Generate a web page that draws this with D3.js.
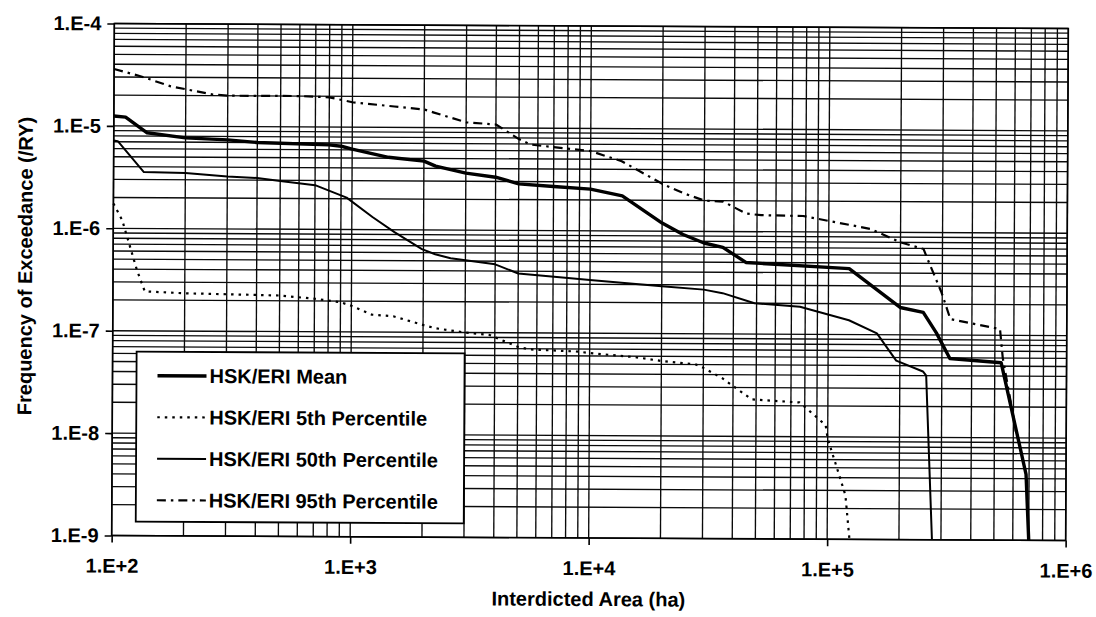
<!DOCTYPE html>
<html>
<head>
<meta charset="utf-8">
<script src="https://cdn.jsdelivr.net/npm/d3@7"></script>
<style>
  body { margin: 0; background: #fff; }
  text { font-family: "Liberation Sans", Arial, sans-serif; font-weight: bold; fill: #000; }
</style>
</head>
<body>
<svg id="chart" width="1096" height="617"></svg>
<script>
// Exceedance frequency curves (interdicted area in ha, frequency per reactor-year)
const meanX = [100, 112, 138, 200, 300, 400, 800, 900, 1000, 1420, 2000, 2240, 3000, 4000, 5000, 7000, 10000, 13600, 20000, 24500, 30000, 36000, 45000, 52000, 122000, 200000, 250000, 284000, 324000, 532000, 680000, 700000];
const meanY = [1.25e-5, 1.22e-5, 8.6e-6, 7.7e-6, 7.4e-6, 7.0e-6, 6.7e-6, 6.5e-6, 6.1e-6, 5.1e-6, 4.7e-6, 4.2e-6, 3.6e-6, 3.3e-6, 2.85e-6, 2.7e-6, 2.55e-6, 2.2e-6, 1.2e-6, 9.3e-7, 7.7e-7, 7.0e-7, 5.0e-7, 4.9e-7, 4.4e-7, 1.85e-7, 1.66e-7, 1.05e-7, 5.9e-8, 5.4e-8, 4.4e-9, 1e-9];

const p5X = [100, 109, 116, 126, 136, 200, 300, 500, 700, 900, 1000, 1220, 1500, 2000, 2240, 3000, 3800, 5000, 5600, 9000, 10000, 15700, 20000, 28000, 30000, 36000, 40000, 48000, 76000, 80000, 98000, 100000, 108000, 119000, 124000];
const p5Y = [1.75e-6, 1.2e-6, 7.4e-7, 3.9e-7, 2.43e-7, 2.34e-7, 2.3e-7, 2.25e-7, 2.1e-7, 1.95e-7, 1.8e-7, 1.48e-7, 1.43e-7, 1.18e-7, 1.1e-7, 1.0e-7, 9.5e-8, 7.3e-8, 6.9e-8, 6.6e-8, 6.4e-8, 5.85e-8, 5.4e-8, 5.0e-8, 4.65e-8, 3.7e-8, 3.1e-8, 2.3e-8, 2.16e-8, 1.96e-8, 1.3e-8, 9.6e-9, 5.5e-9, 2.7e-9, 1e-9];

const p50X = [100, 104, 134, 200, 300, 400, 500, 700, 950, 1220, 1510, 1970, 2240, 2600, 4000, 5000, 10000, 20000, 30000, 36000, 49000, 76000, 122000, 160000, 193000, 250000, 258000, 275000];
const p50Y = [7.2e-6, 7.1e-6, 3.55e-6, 3.5e-6, 3.25e-6, 3.15e-6, 2.95e-6, 2.7e-6, 2.05e-6, 1.33e-6, 9.5e-7, 6.5e-7, 5.8e-7, 5.3e-7, 4.65e-7, 3.8e-7, 3.3e-7, 2.9e-7, 2.7e-7, 2.5e-7, 2.0e-7, 1.86e-7, 1.38e-7, 1.03e-7, 5.6e-8, 4.4e-8, 4.0e-8, 1e-9];

const p95X = [100, 130, 173, 260, 300, 600, 800, 1000, 1500, 2000, 2200, 3000, 4000, 5000, 5600, 10000, 13500, 20000, 24500, 30000, 36000, 45000, 52000, 78000, 149000, 200000, 250000, 260000, 298000, 325000, 525000, 540000, 596000, 615000];
const p95Y = [3.6e-5, 3.05e-5, 2.45e-5, 2.05e-5, 2.0e-5, 2.0e-5, 1.95e-5, 1.75e-5, 1.6e-5, 1.5e-5, 1.4e-5, 1.13e-5, 1.08e-5, 7.8e-6, 6.9e-6, 6.0e-6, 4.8e-6, 2.9e-6, 2.36e-6, 2.0e-6, 1.96e-6, 1.5e-6, 1.45e-6, 1.43e-6, 1.08e-6, 8.0e-7, 6.9e-7, 5.5e-7, 2.6e-7, 1.43e-7, 1.15e-7, 6.0e-8, 1.75e-8, 1.15e-8];

const xTickValues = [1e2, 1e3, 1e4, 1e5, 1e6];
const xTickLabels = ["1.E+2", "1.E+3", "1.E+4", "1.E+5", "1.E+6"];
const yTickValues = [1e-4, 1e-5, 1e-6, 1e-7, 1e-8, 1e-9];
const yTickLabels = ["1.E-4", "1.E-5", "1.E-6", "1.E-7", "1.E-8", "1.E-9"];

const seriesNames = ["HSK/ERI Mean", "HSK/ERI 5th Percentile", "HSK/ERI 50th Percentile", "HSK/ERI 95th Percentile"];

const xTitle = "Interdicted Area (ha)";
const yTitle = "Frequency of Exceedance (/RY)";

// ---- layout ----
const plotL = 113, plotR = 1067, plotT = 26, plotB = 538;
const svg = d3.select("#chart");
const root = svg.append("g").attr("transform", "rotate(0.3,590,282)");

const x = d3.scaleLog().domain([1e2, 1e6]).range([plotL, plotR]);
const y = d3.scaleLog().domain([1e-9, 1e-4]).range([plotB, plotT]);

// log grid: every 1..9 x 10^n
const xGrid = [], yGrid = [];
for (let e = 2; e < 6; e++) for (let k = 1; k < 10; k++) xGrid.push(k * Math.pow(10, e));
xGrid.push(1e6);
for (let e = -9; e < -4; e++) for (let k = 1; k < 10; k++) yGrid.push(k * Math.pow(10, e));
yGrid.push(1e-4);

const grid = root.append("g").attr("stroke", "#0a0a0a").attr("stroke-width", 1.35);
grid.selectAll("line.v").data(xGrid).join("line").attr("class", "v")
  .attr("x1", d => x(d)).attr("x2", d => x(d)).attr("y1", plotT).attr("y2", plotB);
grid.selectAll("line.h").data(yGrid).join("line").attr("class", "h")
  .attr("x1", plotL).attr("x2", plotR).attr("y1", d => y(d)).attr("y2", d => y(d));

// ---- curves ----
const styles = [
  { w: 3.4, dash: null },
  { w: 2.2, dash: "2.5,5" },
  { w: 2.0, dash: null },
  { w: 2.2, dash: "9,5,2.5,5" }
];
const seriesData = [
  d3.zip(meanX, meanY),
  d3.zip(p5X, p5Y),
  d3.zip(p50X, p50Y),
  d3.zip(p95X, p95Y)
];
const line = d3.line().x(d => x(d[0])).y(d => y(d[1]));

root.append("defs").append("clipPath").attr("id", "plotclip")
  .append("rect").attr("x", plotL - 2).attr("y", plotT).attr("width", plotR - plotL + 4).attr("height", plotB - plotT + 1);

const curves = root.append("g").attr("clip-path", "url(#plotclip)");
seriesData.forEach((pts, i) => {
  curves.append("path").attr("d", line(pts))
    .attr("fill", "none").attr("stroke", "#000")
    .attr("stroke-width", styles[i].w)
    .attr("stroke-dasharray", styles[i].dash)
    .attr("stroke-linejoin", "round");
});

// ---- frame ----
root.append("rect").attr("x", plotL).attr("y", plotT).attr("width", plotR - plotL).attr("height", plotB - plotT)
  .attr("fill", "none").attr("stroke", "#000").attr("stroke-width", 1.6);

// ---- axes ----
const yAxis = d3.axisLeft(y).tickValues(yTickValues).tickSize(7).tickPadding(6)
  .tickFormat((d, i) => yTickLabels[i]);
const gy = root.append("g").attr("transform", `translate(${plotL},0)`).call(yAxis);
gy.select(".domain").remove();
gy.selectAll("line").attr("stroke", "#000").attr("stroke-width", 1.6);
gy.selectAll("text").attr("font-size", 20).attr("font-family", null);

const xAxis = d3.axisBottom(x).tickValues(xTickValues).tickSize(7).tickPadding(16)
  .tickFormat((d, i) => xTickLabels[i]);
const gx = root.append("g").attr("transform", `translate(0,${plotB})`).call(xAxis);
gx.select(".domain").remove();
gx.selectAll("line").attr("stroke", "#000").attr("stroke-width", 1.6);
gx.selectAll("text").attr("font-size", 20).attr("font-family", null);

// ---- titles ----
root.append("text").attr("x", 590).attr("y", 606).attr("text-anchor", "middle")
  .attr("font-size", 20).text(xTitle);
root.append("text").attr("transform", "translate(32,269) rotate(-90)").attr("text-anchor", "middle")
  .attr("font-size", 20).text(yTitle);

// ---- legend ----
const lg = root.append("g").attr("transform", "translate(137,354)");
lg.append("rect").attr("width", 328).attr("height", 170)
  .attr("fill", "#fff").attr("stroke", "#000").attr("stroke-width", 1.8);
const rowY = [24, 65.5, 107, 148.5];
seriesNames.forEach((name, i) => {
  lg.append("line").attr("x1", 21).attr("x2", 70).attr("y1", rowY[i]).attr("y2", rowY[i])
    .attr("stroke", "#000").attr("stroke-width", styles[i].w).attr("stroke-dasharray", styles[i].dash);
  lg.append("text").attr("x", 73).attr("y", rowY[i] + 7).attr("font-size", 20).text(name);
});
</script>
</body>
</html>
